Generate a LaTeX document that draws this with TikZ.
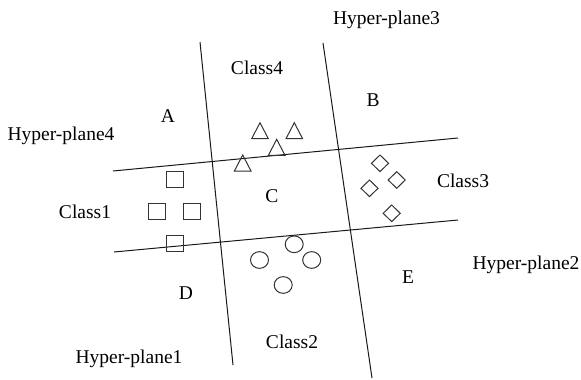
\documentclass[tikz,border=0pt]{standalone}
\usepackage{fontspec}
\setmainfont{Liberation Serif}
\usetikzlibrary{shapes.geometric}
\begin{document}
\begin{tikzpicture}[x=1pt,y=-1pt,
  plane/.style={draw=black!90,line width=1pt},
  lbl/.style={anchor=base,inner sep=0pt,font=\fontsize{19.5}{22}\selectfont},
  sqmark/.style={draw=black!80,line width=1pt,rectangle,inner sep=0pt,minimum width=17pt,minimum height=16pt},
  dmmark/.style={draw=black!80,line width=1pt,diamond,aspect=1,inner sep=0pt,minimum width=17.5pt,minimum height=17pt},
  cimark/.style={draw=black!80,line width=1pt,ellipse,inner sep=0pt,minimum width=18pt,minimum height=16.7pt},
  tri/.pic={\draw[draw=black!80,line width=1pt,line join=miter] (0,0) -- (8.3,16) -- (-8.3,16) -- cycle;}
]
\useasboundingbox (0,0) rectangle (581,380);

% hyper-plane end points
\coordinate (h1a) at (200,42);
\coordinate (h1b) at (233,365);
\coordinate (h3a) at (323,43);
\coordinate (h3b) at (372,378);
\coordinate (h4a) at (113,171);
\coordinate (h4b) at (458,138);
\coordinate (h2a) at (114,252);
\coordinate (h2b) at (458,220);

\draw[plane] (h1a) -- (h1b);
\draw[plane] (h3a) -- (h3b);
\draw[plane] (h4a) -- (h4b);
\draw[plane] (h2a) -- (h2b);

% Class1: squares
\node[sqmark] (s1) at (174.7,179.7) {};
\node[sqmark] (s2) at (157.2,211.3) {};
\node[sqmark] (s3) at (192,211.3) {};
\node[sqmark] (s4) at (174.7,243.8) {};

% Class3: diamonds
\node[dmmark] (d1) at (380,163.3) {};
\node[dmmark] (d2) at (396.7,180) {};
\node[dmmark] (d3) at (369.5,188.3) {};
\node[dmmark] (d4) at (391.7,213.3) {};

% Class2: circles
\node[cimark] (c1) at (294.2,244.3) {};
\node[cimark] (c2) at (259.5,260) {};
\node[cimark] (c3) at (311.7,260) {};
\node[cimark] (c4) at (283.2,285) {};

% Class4: triangles (placed by apex)
\pic at (260,122.7) {tri};
\pic at (294.3,122.7) {tri};
\pic at (276.7,139.3) {tri};
\pic at (242.7,155) {tri};

% labels
\node[lbl] (hp3) at (386.5,24) {Hyper-plane3};
\node[lbl] (hp4) at (61,140) {Hyper-plane4};
\node[lbl] (hp2) at (526,269) {Hyper-plane2};
\node[lbl] (hp1) at (129,363) {Hyper-plane1};
\node[lbl] (cl4) at (257,74) {Class4};
\node[lbl] (cl1) at (85,218) {Class1};
\node[lbl] (cl3) at (463,187) {Class3};
\node[lbl] (cl2) at (292,348) {Class2};
\node[lbl] (ra) at (168,122) {A};
\node[lbl] (rb) at (373,106) {B};
\node[lbl] (rc) at (272,202) {C};
\node[lbl] (rd) at (186,299) {D};
\node[lbl] (re) at (408,283) {E};
\end{tikzpicture}
\end{document}
